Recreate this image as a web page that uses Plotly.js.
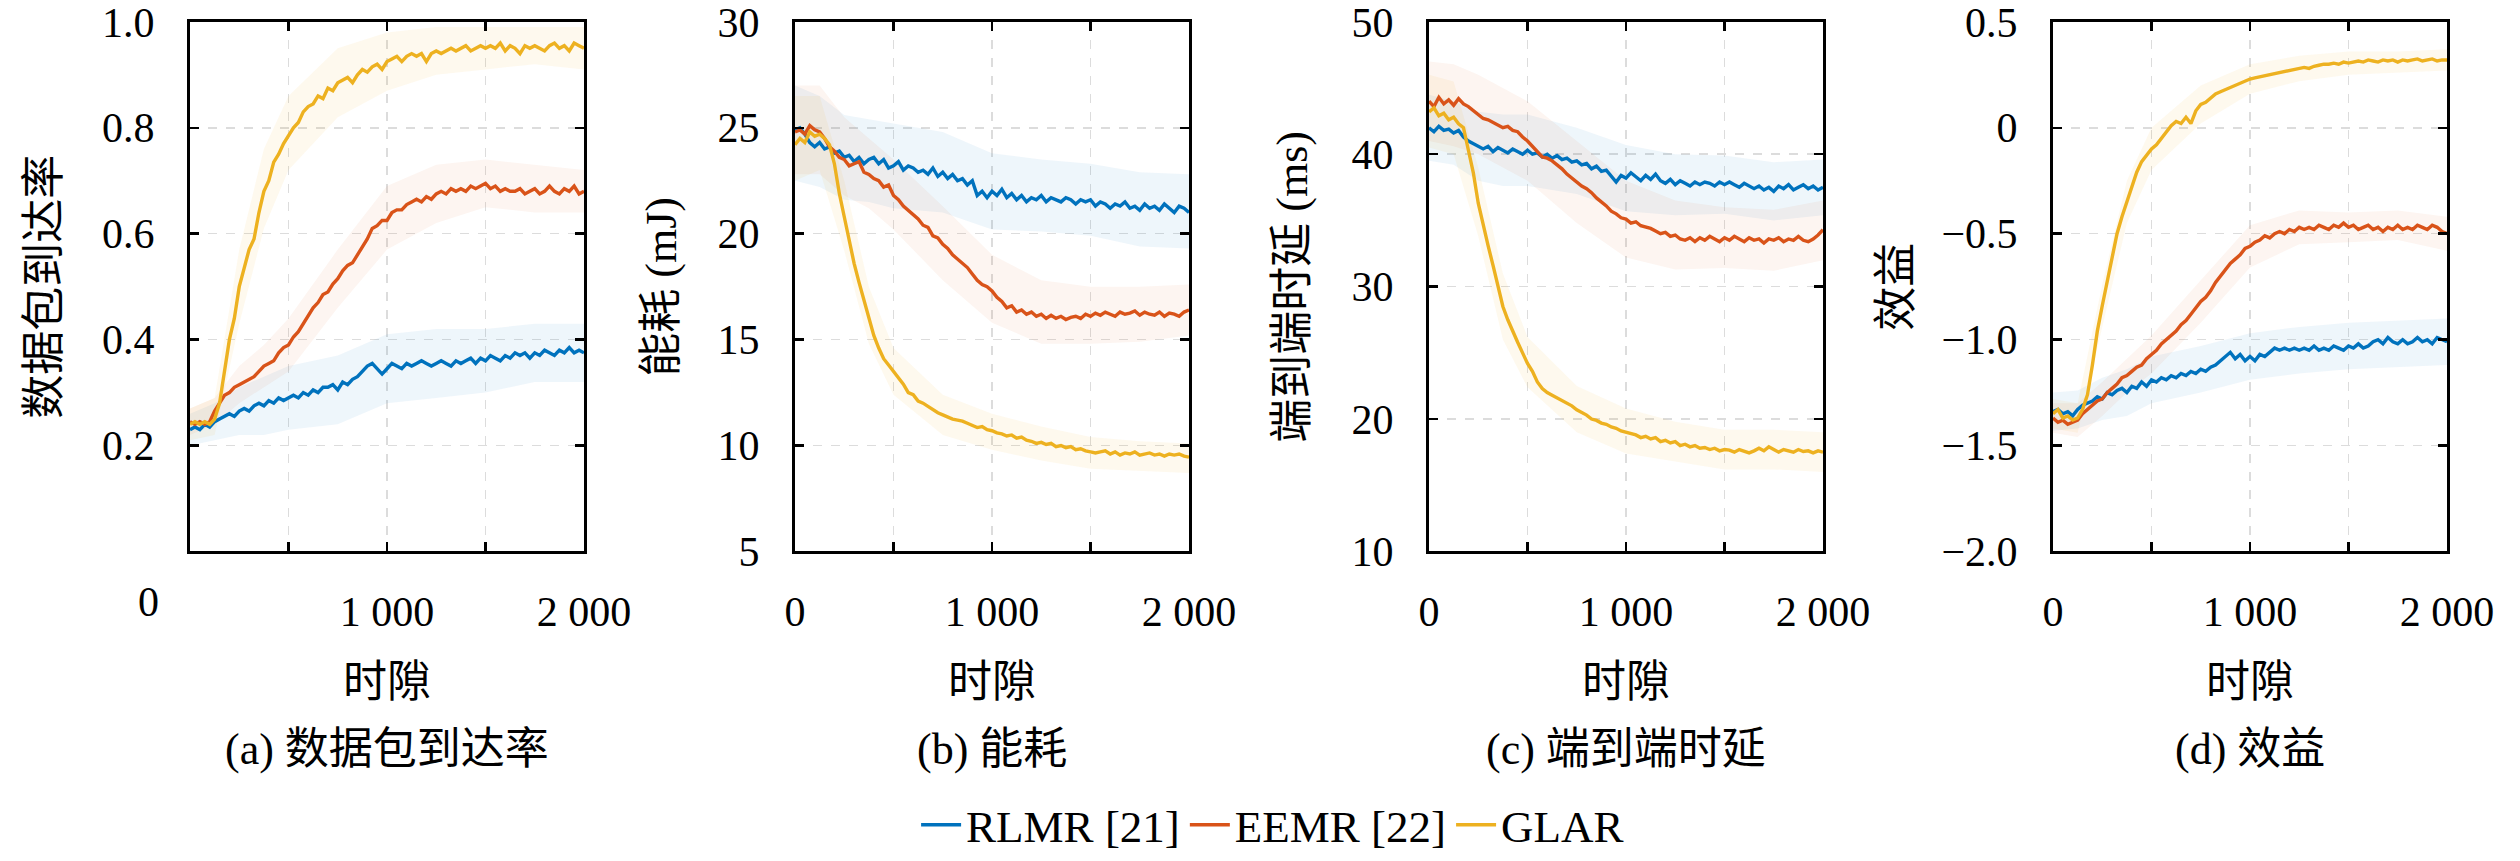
<!DOCTYPE html>
<html>
<head>
<meta charset="utf-8">
<script src="https://cdn.plot.ly/plotly-3.0.1.min.js"></script>
<style>html,body{margin:0;padding:0;background:#fff;}#chart{width:2520px;height:861px;}</style>
</head>
<body>
<div id="chart"></div>
<script>
// ---------------- DATA ----------------
const seriesNames = ["RLMR [21]", "EEMR [22]", "GLAR"];
const xTickText = ["0", "", "1 000", "", "2 000"];
const xTickVals = [0, 500, 1000, 1500, 2000];
const xTitle = "时隙";
const panelCaptions = ["(a) 数据包到达率", "(b) 能耗", "(c) 端到端时延", "(d) 效益"];
const yTitles = ["数据包到达率", "能耗 (mJ)", "端到端时延 (ms)", "效益"];

const pdrTickVals = [0.2, 0.4, 0.6, 0.8, 1.0];
const pdrTickText = ["0.2", "0.4", "0.6", "0.8", "1.0"];
const energyTickVals = [5, 10, 15, 20, 25, 30];
const energyTickText = ["5", "10", "15", "20", "25", "30"];
const delayTickVals = [10, 20, 30, 40, 50];
const delayTickText = ["10", "20", "30", "40", "50"];
const utilityTickVals = [-2.0, -1.5, -1.0, -0.5, 0, 0.5];
const utilityTickText = ["\u22122.0", "\u22121.5", "\u22121.0", "\u22120.5", "0", "0.5"];

const slots = [0,25,50,75,100,125,150,175,200,225,250,275,300,325,350,375,400,425,450,475,500,525,550,575,600,625,650,675,700,725,750,775,800,825,850,875,900,925,950,975,1000,1025,1050,1075,1100,1125,1150,1175,1200,1225,1250,1275,1300,1325,1350,1375,1400,1425,1450,1475,1500,1525,1550,1575,1600,1625,1650,1675,1700,1725,1750,1775,1800,1825,1850,1875,1900,1925,1950,1975,2000];

// (a) packet delivery ratio
const pdrRLMR = [0.23,0.235,0.23,0.24,0.235,0.245,0.25,0.255,0.26,0.255,
  0.265,0.27,0.265,0.275,0.28,0.275,0.285,0.28,0.29,0.285,
  0.29,0.295,0.29,0.30,0.295,0.305,0.30,0.31,0.31,0.315,
  0.305,0.32,0.315,0.325,0.33,0.34,0.35,0.355,0.345,0.335,
  0.345,0.355,0.35,0.345,0.355,0.35,0.355,0.36,0.355,0.35,
  0.355,0.36,0.355,0.35,0.36,0.355,0.36,0.365,0.355,0.365,
  0.36,0.37,0.365,0.36,0.37,0.365,0.375,0.37,0.375,0.365,
  0.375,0.37,0.38,0.375,0.37,0.38,0.375,0.385,0.375,0.38,
  0.375];
const pdrEEMR = [0.245,0.24,0.245,0.24,0.245,0.265,0.28,0.295,0.30,0.31,
  0.315,0.32,0.325,0.33,0.34,0.35,0.355,0.36,0.375,0.385,
  0.39,0.405,0.415,0.43,0.445,0.46,0.47,0.485,0.49,0.505,
  0.515,0.53,0.54,0.545,0.56,0.575,0.59,0.61,0.615,0.625,
  0.625,0.64,0.645,0.645,0.655,0.66,0.665,0.66,0.67,0.665,
  0.675,0.68,0.675,0.685,0.68,0.685,0.68,0.69,0.685,0.69,
  0.695,0.685,0.69,0.68,0.685,0.68,0.68,0.685,0.675,0.68,
  0.685,0.675,0.68,0.69,0.68,0.675,0.685,0.68,0.69,0.675,
  0.68];
const pdrGLAR = [0.24,0.245,0.24,0.245,0.24,0.25,0.28,0.34,0.40,0.44,
  0.50,0.535,0.57,0.59,0.64,0.68,0.70,0.735,0.75,0.77,
  0.785,0.80,0.81,0.83,0.84,0.845,0.86,0.855,0.875,0.87,
  0.885,0.89,0.895,0.885,0.90,0.91,0.905,0.915,0.92,0.91,
  0.925,0.93,0.935,0.925,0.935,0.94,0.935,0.94,0.925,0.94,
  0.945,0.94,0.945,0.95,0.945,0.95,0.955,0.945,0.95,0.955,
  0.95,0.955,0.95,0.96,0.945,0.955,0.95,0.94,0.955,0.95,
  0.955,0.95,0.945,0.955,0.96,0.95,0.955,0.945,0.96,0.955,
  0.95];

// (b) energy (mJ)
const energyRLMR = [24.9,25.0,24.7,24.3,24.1,24.3,24.0,24.1,23.8,23.9,
  23.6,23.7,23.4,23.6,23.3,23.5,23.6,23.3,23.5,23.1,
  23.2,23.4,23.0,23.2,23.1,22.9,23.0,22.8,23.1,22.7,
  22.9,22.6,22.8,22.5,22.6,22.3,22.5,21.8,22.0,21.7,
  22.0,21.8,22.1,21.7,21.9,21.6,21.8,21.5,21.7,21.6,
  21.8,21.5,21.7,21.6,21.5,21.7,21.6,21.4,21.6,21.5,
  21.6,21.3,21.5,21.4,21.2,21.4,21.3,21.5,21.2,21.3,
  21.1,21.4,21.2,21.3,21.1,21.4,21.2,21.0,21.3,21.2,
  21.0];
const energyEEMR = [24.8,24.9,24.7,25.1,24.9,24.8,24.5,24.1,23.9,23.6,
  23.5,23.2,23.3,23.4,22.9,22.8,22.6,22.5,22.2,22.3,
  21.8,21.6,21.3,21.1,20.9,20.7,20.4,20.3,19.9,19.8,
  19.5,19.3,19.0,18.8,18.6,18.4,18.1,17.8,17.6,17.5,
  17.3,17.0,16.8,16.5,16.6,16.3,16.4,16.2,16.3,16.1,
  16.2,16.0,16.15,16.0,16.1,15.95,16.05,16.1,16.0,16.2,
  16.1,16.25,16.15,16.3,16.2,16.1,16.3,16.2,16.25,16.35,
  16.15,16.3,16.2,16.15,16.3,16.1,16.25,16.2,16.1,16.3,
  16.4];
const energyGLAR = [24.2,24.5,24.3,24.8,24.6,24.7,24.5,24.2,23.3,21.9,
  20.8,19.6,18.6,17.7,16.9,16.1,15.2,14.6,14.1,13.8,
  13.5,13.2,12.9,12.5,12.4,12.1,12.0,11.85,11.7,11.55,
  11.45,11.35,11.25,11.2,11.15,11.05,10.95,10.85,10.9,10.75,
  10.7,10.6,10.55,10.45,10.5,10.35,10.4,10.25,10.2,10.1,
  10.15,10.05,10.1,9.95,10.0,9.9,9.95,9.8,9.85,9.75,
  9.7,9.65,9.7,9.75,9.6,9.7,9.55,9.65,9.6,9.7,
  9.55,9.6,9.65,9.55,9.6,9.5,9.6,9.55,9.6,9.5,
  9.45];

// (c) end-to-end delay (ms)
const delayRLMR = [42.0,41.7,42.1,41.8,41.9,41.6,41.8,41.3,41.0,40.8,
  40.6,40.4,40.6,40.2,40.5,40.3,40.1,40.4,40.2,40.0,
  40.3,40.0,40.1,39.8,40.0,39.7,39.9,39.6,39.7,39.4,
  39.5,39.2,39.3,38.9,39.1,38.7,38.8,38.3,37.9,38.4,
  38.2,38.6,38.3,38.0,38.4,38.1,38.5,38.0,37.8,38.1,
  37.7,38.0,37.8,37.6,37.9,37.7,37.9,37.8,37.6,37.9,
  37.7,37.9,37.7,37.5,37.8,37.6,37.4,37.6,37.3,37.5,
  37.2,37.6,37.4,37.7,37.3,37.5,37.7,37.4,37.6,37.3,
  37.5];
const delayEEMR = [44.0,43.6,44.3,43.8,44.1,43.7,44.2,43.8,43.6,43.3,
  43.0,42.7,42.6,42.4,42.2,42.0,42.1,41.8,41.7,41.3,
  41.0,40.6,40.2,39.8,39.7,39.5,39.2,38.9,38.5,38.2,
  37.9,37.6,37.4,37.1,36.7,36.4,36.1,35.7,35.5,35.2,
  35.1,34.8,34.9,34.6,34.5,34.4,34.2,34.0,34.1,33.8,
  33.9,33.6,33.5,33.7,33.4,33.7,33.5,33.8,33.6,33.4,
  33.7,33.5,33.8,33.6,33.4,33.7,33.5,33.6,33.3,33.6,
  33.5,33.7,33.4,33.6,33.5,33.8,33.5,33.4,33.6,33.9,
  34.3];
const delayGLAR = [43.2,43.5,42.9,43.1,42.6,42.8,42.3,42.0,40.3,38.6,
  36.3,34.6,33.1,31.6,30.0,28.5,27.5,26.6,25.8,25.0,
  24.2,23.6,22.8,22.3,22.0,21.8,21.6,21.4,21.2,21.0,
  20.7,20.5,20.3,20.0,19.9,19.7,19.6,19.4,19.3,19.1,
  19.0,18.9,18.8,18.6,18.7,18.5,18.6,18.3,18.4,18.2,
  18.3,18.0,18.1,17.9,18.0,17.8,17.85,17.7,17.8,17.6,
  17.7,17.65,17.5,17.7,17.55,17.45,17.6,17.8,17.6,17.9,
  17.7,17.5,17.7,17.6,17.5,17.7,17.55,17.6,17.45,17.6,
  17.5];

// (d) utility
const utilityRLMR = [-1.34,-1.33,-1.35,-1.34,-1.36,-1.33,-1.31,-1.3,-1.29,-1.27,
  -1.28,-1.25,-1.26,-1.24,-1.23,-1.25,-1.22,-1.23,-1.2,-1.22,
  -1.19,-1.2,-1.18,-1.19,-1.17,-1.18,-1.16,-1.17,-1.15,-1.16,
  -1.14,-1.15,-1.13,-1.12,-1.1,-1.08,-1.06,-1.09,-1.07,-1.1,
  -1.08,-1.1,-1.07,-1.08,-1.06,-1.04,-1.05,-1.04,-1.05,-1.04,
  -1.05,-1.04,-1.05,-1.03,-1.05,-1.04,-1.05,-1.03,-1.04,-1.05,
  -1.03,-1.04,-1.02,-1.04,-1.03,-1.01,-1.0,-1.02,-0.99,-1.01,
  -1.02,-1.0,-1.02,-1.01,-0.99,-1.01,-1.0,-1.02,-0.99,-1.0,
  -1.01];
const utilityEEMR = [-1.37,-1.39,-1.38,-1.4,-1.39,-1.38,-1.35,-1.33,-1.31,-1.29,
  -1.28,-1.25,-1.23,-1.21,-1.18,-1.17,-1.15,-1.13,-1.12,-1.09,
  -1.07,-1.05,-1.02,-1.0,-0.98,-0.96,-0.93,-0.91,-0.88,-0.85,
  -0.82,-0.8,-0.77,-0.73,-0.7,-0.67,-0.64,-0.62,-0.6,-0.57,
  -0.56,-0.54,-0.53,-0.51,-0.52,-0.5,-0.49,-0.5,-0.48,-0.49,
  -0.47,-0.48,-0.47,-0.48,-0.46,-0.47,-0.48,-0.46,-0.47,-0.45,
  -0.47,-0.46,-0.48,-0.47,-0.46,-0.48,-0.47,-0.49,-0.47,-0.48,
  -0.46,-0.48,-0.47,-0.48,-0.46,-0.47,-0.48,-0.46,-0.47,-0.49,
  -0.5];
const utilityGLAR = [-1.35,-1.33,-1.37,-1.36,-1.38,-1.37,-1.33,-1.26,-1.12,-0.96,
  -0.84,-0.73,-0.61,-0.5,-0.42,-0.35,-0.27,-0.21,-0.16,-0.13,
  -0.1,-0.08,-0.05,-0.02,0.01,0.03,0.02,0.05,0.02,0.08,
  0.11,0.12,0.14,0.16,0.17,0.18,0.19,0.2,0.21,0.22,
  0.23,0.235,0.24,0.245,0.25,0.255,0.26,0.265,0.27,0.275,
  0.28,0.285,0.28,0.29,0.295,0.3,0.3,0.305,0.3,0.31,
  0.305,0.31,0.315,0.31,0.32,0.315,0.31,0.32,0.315,0.32,
  0.31,0.32,0.315,0.32,0.325,0.315,0.32,0.325,0.315,0.32,
  0.32];

// shaded spread bands (upper / lower), coarse grid
const bandSlots = [0,125,250,375,500,750,1000,1250,1500,1750,2000];
const pdrRLMRHi = [0.26,0.28,0.31,0.33,0.35,0.37,0.41,0.42,0.42,0.43,0.43];
const pdrRLMRLo = [0.20,0.21,0.22,0.22,0.23,0.24,0.28,0.29,0.30,0.32,0.32];
const pdrEEMRHi = [0.27,0.29,0.35,0.39,0.44,0.57,0.69,0.73,0.74,0.73,0.72];
const pdrEEMRLo = [0.22,0.24,0.28,0.31,0.34,0.46,0.57,0.62,0.65,0.64,0.64];
const pdrGLARHi = [0.27,0.29,0.57,0.76,0.86,0.95,0.98,0.99,0.99,0.99,0.99];
const pdrGLARLo = [0.21,0.22,0.43,0.61,0.72,0.82,0.87,0.90,0.91,0.92,0.91];

const energyRLMRHi = [27,26.5,25.6,25.4,25.2,24.8,23.8,23.5,23.3,22.9,22.8];
const energyRLMRLo = [22.5,22.2,21.6,21.5,21.2,21,20.2,20.1,19.9,19.4,19.3];
const energyEEMRHi = [27,27,25.5,24.5,23.5,21.3,19,17.8,17.5,17.5,17.6];
const energyEEMRLo = [22.8,22.8,21.8,21.2,20.2,17.8,15.8,14.8,14.8,14.9,15.2];
const energyGLARHi = [26.5,26.5,22.5,17.5,14.6,12.4,11.5,10.9,10.4,10.2,10.1];
const energyGLARLo = [22.5,23,19.2,14.8,12.4,10.5,9.8,9.3,8.9,8.8,8.7];

const delayRLMRHi = [44.5,44,43.2,43,43,42,40.7,40,39.9,39.4,39.6];
const delayRLMRLo = [39.5,39.2,38,37.6,37.6,37,35.7,35.4,35.5,35,35.4];
const delayEEMRHi = [47,46.8,46,45,44,41,38,36.5,36,35.8,36.5];
const delayEEMRLo = [41,40.6,40,39,38,34.8,32.2,31.3,31.4,31.2,32];
const delayGLARHi = [46,45.5,39,31,26.2,22.5,20.8,19.8,19.2,19.2,19];
const delayGLARLo = [40.5,40,33.8,26,22.4,19,17.4,16.8,16.2,16.2,16];

const utilityRLMRHi = [-1.25,-1.24,-1.18,-1.14,-1.08,-1.03,-0.97,-0.94,-0.92,-0.91,-0.9];
const utilityRLMRLo = [-1.43,-1.42,-1.38,-1.36,-1.3,-1.25,-1.19,-1.16,-1.14,-1.13,-1.12];
const utilityEEMRHi = [-1.3,-1.3,-1.2,-1.09,-0.98,-0.72,-0.46,-0.39,-0.4,-0.39,-0.42];
const utilityEEMRLo = [-1.44,-1.46,-1.36,-1.25,-1.16,-0.92,-0.66,-0.55,-0.54,-0.53,-0.58];
const utilityGLARHi = [-1.28,-1.3,-0.74,-0.25,0.0,0.2,0.3,0.34,0.36,0.36,0.37];
const utilityGLARLo = [-1.42,-1.44,-0.94,-0.45,-0.2,0.02,0.16,0.22,0.25,0.26,0.27];

// ---------------- STYLE ----------------
const colors = ["#0072BD", "#D95319", "#EDB120"];
const bandColors = ["rgba(0,114,189,0.065)", "rgba(217,83,25,0.06)", "rgba(237,177,32,0.08)"];
const FONT = "'Liberation Serif', 'Noto Sans CJK SC', serif";

const panels = [
  {lines: [pdrRLMR, pdrEEMR, pdrGLAR], his: [pdrRLMRHi, pdrEEMRHi, pdrGLARHi], los: [pdrRLMRLo, pdrEEMRLo, pdrGLARLo],
   range: [0, 1], tv: pdrTickVals, tt: pdrTickText},
  {lines: [energyRLMR, energyEEMR, energyGLAR], his: [energyRLMRHi, energyEEMRHi, energyGLARHi], los: [energyRLMRLo, energyEEMRLo, energyGLARLo],
   range: [5, 30], tv: energyTickVals, tt: energyTickText},
  {lines: [delayRLMR, delayEEMR, delayGLAR], his: [delayRLMRHi, delayEEMRHi, delayGLARHi], los: [delayRLMRLo, delayEEMRLo, delayGLARLo],
   range: [10, 50], tv: delayTickVals, tt: delayTickText},
  {lines: [utilityRLMR, utilityEEMR, utilityGLAR], his: [utilityRLMRHi, utilityEEMRHi, utilityGLARHi], los: [utilityRLMRLo, utilityEEMRLo, utilityGLARLo],
   range: [-2, 0.5], tv: utilityTickVals, tt: utilityTickText}
];

const W = 2520, H = 861;
const plotLeft = [190, 795, 1429, 2053];
const plotW = 394;
const plotTop = 22, plotBottom = 556;
const yDom = [1 - plotBottom / H, 1 - plotTop / H];

const traces = [];
const layout = {
  width: W, height: H,
  margin: {l: 0, r: 0, t: 0, b: 0},
  paper_bgcolor: "#fff", plot_bgcolor: "#fff",
  font: {family: FONT, size: 42, color: "#000"},
  showlegend: true,
  legend: {orientation: "h", x: 0.505, xanchor: "center", y: 1 - 832 / H, yanchor: "middle",
           font: {family: FONT, size: 45, color: "#000"}, itemwidth: 40, bgcolor: "rgba(0,0,0,0)"},
  annotations: []
};

panels.forEach((p, i) => {
  const n = i + 1;
  const xa = "x" + (n === 1 ? "" : n), ya = "y" + (n === 1 ? "" : n);
  for (let s = 0; s < 3; s++) {
    traces.push({x: bandSlots, y: p.his[s], xaxis: xa, yaxis: ya, type: "scatter", mode: "lines",
      line: {width: 0, color: bandColors[s]}, showlegend: false, hoverinfo: "skip"});
    traces.push({x: bandSlots, y: p.los[s], xaxis: xa, yaxis: ya, type: "scatter", mode: "lines",
      line: {width: 0, color: bandColors[s]}, fill: "tonexty", fillcolor: bandColors[s], showlegend: false, hoverinfo: "skip"});
  }
  for (let s = 0; s < 3; s++) {
    traces.push({x: slots, y: p.lines[s], xaxis: xa, yaxis: ya, type: "scatter", mode: "lines",
      name: seriesNames[s], legendgroup: seriesNames[s], showlegend: i === 0,
      line: {color: colors[s], width: 3.4}});
  }
  const xd = [plotLeft[i] / W, (plotLeft[i] + plotW) / W];
  const common = {
    ticks: "inside", ticklen: 9, tickwidth: 2.5, tickcolor: "#000",
    showline: true, linecolor: "#000", linewidth: 3, mirror: "ticks",
    showgrid: true, gridcolor: "#dcdcdc", griddash: "dash", gridwidth: 1.5,
    zeroline: false, fixedrange: true, ticklabeloverflow: "allow",
    tickfont: {family: FONT, size: 42, color: "#000"}
  };
  layout["xaxis" + (n === 1 ? "" : n)] = Object.assign({}, common, {
    domain: xd, anchor: ya, range: [0, 2000],
    tickmode: "array", tickvals: xTickVals,
    ticktext: i === 0 ? ["", "", "1 000", "", "2 000"] : xTickText,
    ticklabelstandoff: 21
  });
  layout["yaxis" + (n === 1 ? "" : n)] = Object.assign({}, common, {
    domain: yDom, anchor: xa, range: p.range,
    tickmode: "array", tickvals: p.tv, ticktext: p.tt,
    ticklabelstandoff: 24
  });
  const cx = (plotLeft[i] + plotW / 2) / W;
  layout.annotations.push({text: xTitle, xref: "paper", yref: "paper", x: cx, y: 1 - 688 / H,
    xanchor: "center", yanchor: "middle", showarrow: false, font: {family: FONT, size: 44, color: "#000"}});
  layout.annotations.push({text: panelCaptions[i], xref: "paper", yref: "paper", x: cx, y: 1 - 756 / H,
    xanchor: "center", yanchor: "middle", showarrow: false, font: {family: FONT, size: 44, color: "#000"}});
});

const yTitleX = [45, 662, 1293, 1897];
yTitles.forEach((t, i) => {
  layout.annotations.push({text: t, xref: "paper", yref: "paper", x: yTitleX[i] / W, y: 1 - 289 / H,
    xanchor: "center", yanchor: "middle", textangle: -90, showarrow: false,
    font: {family: FONT, size: 44, color: "#000"}});
});
// stray "0" label of panel (a), placed as in the reference
layout.annotations.push({text: xTickText[0], xref: "paper", yref: "paper", x: 148 / W, y: 1 - 607 / H,
  xanchor: "center", yanchor: "middle", showarrow: false, font: {family: FONT, size: 42, color: "#000"}});

Plotly.newPlot("chart", traces, layout, {displayModeBar: false, staticPlot: true});
</script>
</body>
</html>
